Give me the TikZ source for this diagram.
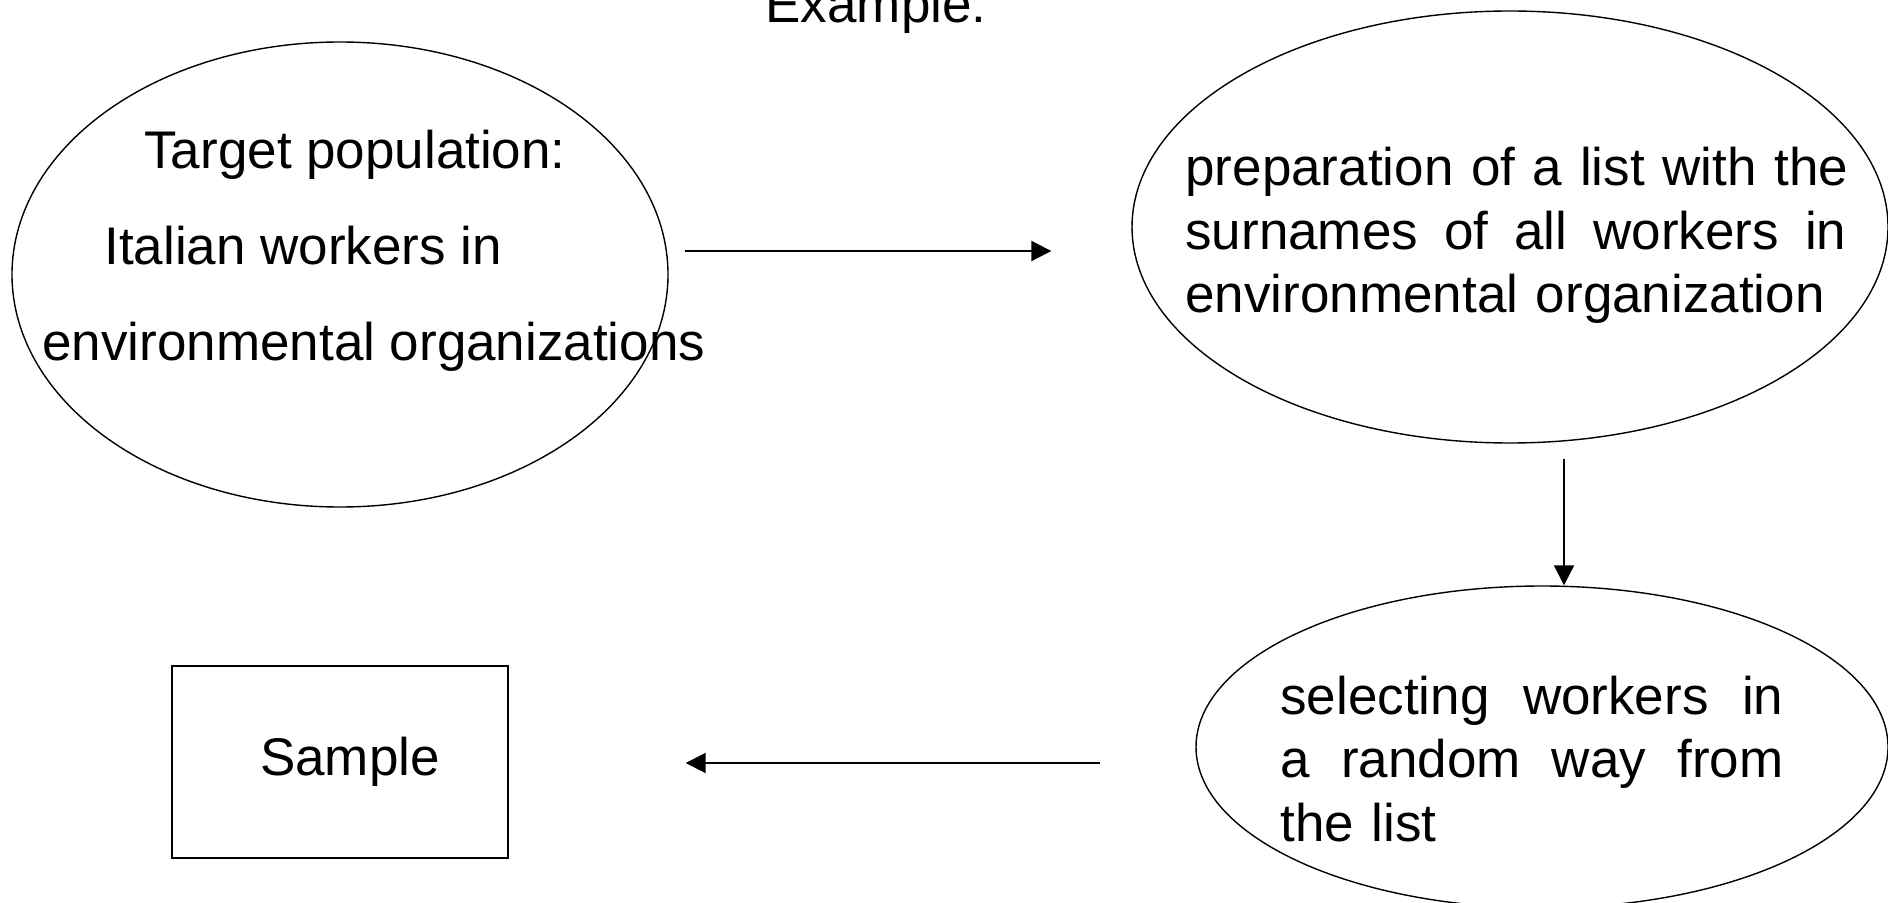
\documentclass[tikz,border=0pt]{standalone}
\usepackage{fontspec}
\setmainfont{Liberation Sans}
\usetikzlibrary{shapes.geometric,arrows.meta}

\begin{document}
\begin{tikzpicture}[
  x=0.5pt, y=-0.5pt,
  every node/.style={font=\fontsize{26.5pt}{31.75pt}\selectfont, inner sep=0pt},
  oval/.style={draw, ellipse, line width=0.7pt},
  txt/.style={anchor=base west},
  block/.style={anchor=north west, align=left},
  arr/.style={-{Triangle[length=10pt,width=10pt]}, line width=1pt}]
\useasboundingbox (0,0) rectangle (1888,903);
\node[anchor=base] (title) at (876,23) {Example:};
% target population
\node[oval, minimum width=328pt, minimum height=232.5pt] (pop) at (340,274.5) {};
\node[txt] (popa) at (144,168.5) {Target population:};
\node[txt] (popb) at (104,265) {Italian workers in};
\node[txt] (popc) at (42,361) {environmental organizations};
% list of workers
\node[oval, minimum width=378pt, minimum height=216pt] (list) at (1510,227) {};
\node[block, text width=330.5pt] (listtxt) at (1185,141)
  {\strut\makebox[330.5pt][s]{preparation \hfill of \hfill a \hfill list \hfill with \hfill the}\\
   \makebox[330.5pt][s]{surnames \hfill of \hfill all \hfill workers \hfill in}\\
   environmental organization};
% random selection
\node[oval, minimum width=346pt, minimum height=161pt] (pick) at (1542,747) {};
\node[block, text width=251.5pt] (picktxt) at (1280,669.6)
  {\strut\makebox[251.5pt][s]{selecting \hfill workers \hfill in}\\
   \makebox[251.5pt][s]{a \hfill random \hfill way \hfill from}\\
   the list};
% sample
\node[draw, line width=0.7pt, minimum width=168pt, minimum height=96pt] (sample) at (340,762) {\hspace*{10pt}Sample};
\draw[arr] ([xshift=8pt,yshift=11.75pt]pop.east) -- ([xshift=-40pt,yshift=-12pt]list.west);
\draw[arr] ([xshift=27pt,yshift=-7.5pt]list.south) -- ([xshift=11pt]pick.north);
\draw[arr] ([xshift=-47.5pt,yshift=-8pt]pick.west) -- ([xshift=88.5pt,yshift=-0.5pt]sample.east);
\end{tikzpicture}
\end{document}
